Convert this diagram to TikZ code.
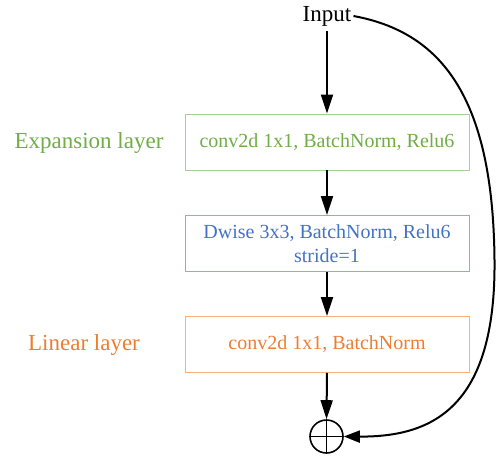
\documentclass[tikz,border=0pt]{standalone}
\usepackage{fontspec}
\setmainfont{Liberation Serif}
\usetikzlibrary{arrows.meta}
\definecolor{expgreen}{HTML}{70AD47}
\definecolor{expgreenline}{HTML}{A9D18E}
\definecolor{dwblue}{HTML}{4472C4}
\definecolor{dwblueline}{HTML}{8FAADC}
\definecolor{linorange}{HTML}{ED7D31}
\definecolor{linorangeline}{HTML}{F4B183}
\tikzset{
  layerbox/.style={draw, line width=0.8pt, minimum width=284pt, minimum height=56pt,
    inner sep=0pt, align=center, font=\fontsize{20}{24}\selectfont},
  sidelabel/.style={inner sep=0pt, font=\fontsize{23}{27}\selectfont},
  flow/.style={line width=2pt, -{Triangle[length=19pt,width=12pt]}},
}
\begin{document}
\begin{tikzpicture}[x=1pt,y=-1pt]
  \useasboundingbox (0,0) rectangle (496,458);
  % input and layer stack
  \node[inner xsep=2pt, inner ysep=5pt, font=\fontsize{23}{27}\selectfont] (in) at (327,16) {Input};
  \node[layerbox, color=expgreenline, text=expgreen] (exp) at (327,142) {conv2d 1x1, BatchNorm, Relu6};
  \node[layerbox, color=dwblueline, text=dwblue, font=\fontsize{20}{24}\selectfont] (dw) at (327,243.5)
    {Dwise 3x3, BatchNorm, Relu6\\stride=1};
  \node[layerbox, color=linorangeline, text=linorange] (lin) at (327,344.5) {conv2d 1x1, BatchNorm};
  % element-wise sum
  \node[circle, draw, line width=1.6pt, minimum size=33pt, inner sep=0pt] (sum) at (326.5,436.5) {};
  \draw[line width=1.6pt] (sum.north) -- (sum.south) (sum.west) -- (sum.east);
  % side labels
  \node[sidelabel, text=expgreen] (explbl) at (89,143) {Expansion layer};
  \node[sidelabel, text=linorange] (linlbl) at (84,345) {Linear layer};
  % main path
  \draw[flow] (in.south) -- (exp.north);
  \draw[flow] (exp.south) -- (dw.north);
  \draw[flow] (dw.south) -- (lin.north);
  \draw[flow] (lin.south) -- (sum.north);
  % shortcut connection
  \coordinate (bend) at (494.5,260);
  \draw[line width=2pt, -{Triangle[length=16pt,width=12pt]}]
    (in.east) .. controls (440,32) and (493,95) .. (bend)
    .. controls (496,410) and (430,437) .. (sum.east);
\end{tikzpicture}
\end{document}
